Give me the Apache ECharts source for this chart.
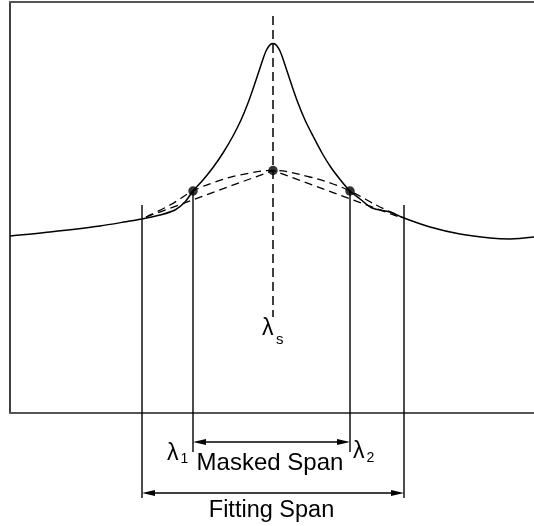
<!DOCTYPE html>
<html><head><meta charset="utf-8">
<script src="https://cdn.jsdelivr.net/npm/echarts@6/dist/echarts.min.js"></script>
<style>html,body{margin:0;padding:0;background:#fff}#c{width:534px;height:526px}</style>
</head><body><div id="c"></div>
<script>
// Observed line profile (arbitrary wavelength / flux units)
const profileX = [0, 40, 90, 120, 132, 150, 165, 175, 183, 193, 203, 213, 223, 231, 238, 244, 249, 253, 256, 259, 261, 263, 265, 267, 270, 273, 277, 282, 288, 295, 303, 312, 321, 330.5, 340, 350, 362, 380, 394, 420, 450, 480, 500, 524];
const profileY = [177, 181, 187, 192, 194, 198, 203, 211, 222, 233, 245.5, 260, 277, 293, 310, 327, 342, 354, 362, 367, 369, 369.5, 369, 367, 362, 354, 342, 327, 310, 293, 277, 260, 245.5, 233, 222, 214, 205, 201, 195, 186, 179, 175, 174, 176];
// Smooth (Gaussian-like) fit, dashed
const gaussX = [136, 160, 183, 205, 230, 263, 300, 323, 340, 370, 394];
const gaussY = [196, 208, 222, 231, 238, 242.5, 236, 229, 222, 206, 195];
// Linear (triangle) fit, dashed
const linearX = [136, 263, 392];
const linearY = [196, 242.5, 195];
// Marked points
const dotX = [183, 263, 340];
const dotY = [222, 242.5, 222];
// Span edges
const centreX = 263;
const centreRange = [96, 397];
const maskedEdges = [183, 340];
const fittingEdges = [132, 394];
const maskedLineRange = [222, -39];
const fittingLineRange = [208, -85];
const maskedArrowY = -29;
const fittingArrowY = -80;
const spanNames = ['Masked Span', 'Fitting Span'];
const lambdaSubs = ['s', '1', '2'];

const zip = (xs, ys) => xs.map((x, i) => [x, ys[i]]);
const FONT = '"Liberation Sans", Arial, Helvetica, sans-serif';

const chart = echarts.init(document.getElementById('c'));

function renderAnno(params, api) {
  const ch = [];
  const P = (x, y) => api.coord([x, y]);
  const vline = (x, r) => {
    const a = P(x, r[0]), b = P(x, r[1]);
    ch.push({type: 'line', shape: {x1: a[0], y1: a[1], x2: b[0], y2: b[1]}, style: {stroke: '#000', lineWidth: 1.4}});
  };
  vline(maskedEdges[0], maskedLineRange);
  vline(maskedEdges[1], maskedLineRange);
  vline(fittingEdges[0], fittingLineRange);
  vline(fittingEdges[1], fittingLineRange);
  const arrow = (x1, x2, y) => {
    const a = P(x1, y), b = P(x2, y);
    const L = 13, H = 3;
    ch.push({type: 'line', shape: {x1: a[0] + 4, y1: a[1], x2: b[0] - 4, y2: b[1]}, style: {stroke: '#000', lineWidth: 1.4}});
    ch.push({type: 'polygon', shape: {points: [[a[0], a[1]], [a[0] + L, a[1] - H], [a[0] + L, a[1] + H]]}, style: {fill: '#000'}});
    ch.push({type: 'polygon', shape: {points: [[b[0], b[1]], [b[0] - L, b[1] - H], [b[0] - L, b[1] + H]]}, style: {fill: '#000'}});
  };
  arrow(maskedEdges[0], maskedEdges[1], maskedArrowY);
  arrow(fittingEdges[0], fittingEdges[1], fittingArrowY);
  const txt = (x, y, s, size, align) => {
    ch.push({type: 'text', x: x, y: y, style: {text: s, fill: '#000', font: size + 'px ' + FONT, align: align, verticalAlign: 'middle'}});
  };
  // span labels
  const mm = P((maskedEdges[0] + maskedEdges[1]) / 2, maskedArrowY);
  txt(mm[0] - 1.5, mm[1] + 21, spanNames[0], 24, 'center');
  const fm = P((fittingEdges[0] + fittingEdges[1]) / 2, fittingArrowY);
  txt(fm[0] - 1.5, fm[1] + 18, spanNames[1], 23.5, 'center');
  // lambda labels
  const cs = P(centreX, centreRange[0]);
  txt(cs[0] - 11, cs[1] + 12, 'λ', 23, 'left');
  txt(cs[0] + 3, cs[1] + 23, lambdaSubs[0], 15, 'left');
  const l1 = P(maskedEdges[0], maskedArrowY);
  txt(l1[0] - 26, l1[1] + 12, 'λ', 23, 'left');
  txt(l1[0] - 12.5, l1[1] + 17, lambdaSubs[1], 14, 'left');
  const l2 = P(maskedEdges[1], maskedArrowY);
  txt(l2[0] + 3, l2[1] + 10, 'λ', 23, 'left');
  txt(l2[0] + 16.5, l2[1] + 16, lambdaSubs[2], 14, 'left');
  return {type: 'group', children: ch};
}

const axisOff = {axisTick: {show: false}, axisLabel: {show: false}, splitLine: {show: false}};
chart.setOption({
  animation: false,
  backgroundColor: '#fff',
  grid: {left: 10, right: 0, top: 2, bottom: 113, containLabel: false},
  xAxis: [
    Object.assign({type: 'value', min: 0, max: 524, position: 'bottom', axisLine: {show: true, onZero: false, lineStyle: {color: '#555', width: 2}}}, axisOff),
    Object.assign({type: 'value', min: 0, max: 524, position: 'top', axisLine: {show: true, onZero: false, lineStyle: {color: '#555', width: 2}}}, axisOff)
  ],
  yAxis: Object.assign({type: 'value', min: 0, max: 411, axisLine: {show: true, onZero: false, lineStyle: {color: '#000', width: 1.5}}}, axisOff),
  series: [
    {type: 'line', data: zip(gaussX, gaussY), smooth: 0.4, showSymbol: false, lineStyle: {color: '#000', width: 1.3, type: [8, 5]}},
    {type: 'line', data: zip(linearX, linearY), showSymbol: false, lineStyle: {color: '#000', width: 1.3, type: [8, 5]}},
    {type: 'line', data: [[centreX, centreRange[1]], [centreX, centreRange[0]]], showSymbol: false, lineStyle: {color: '#000', width: 1.5, type: [9, 5]}},
    {type: 'line', data: zip(profileX, profileY), smooth: 0.3, showSymbol: false, lineStyle: {color: '#000', width: 1.5}},
    {type: 'custom', data: [[0, 0]], renderItem: renderAnno, clip: false, silent: true},
    {type: 'scatter', data: zip(dotX, dotY), symbolSize: 9.5, itemStyle: {color: '#000'}, z: 10}
  ]
});
</script>
</body></html>
